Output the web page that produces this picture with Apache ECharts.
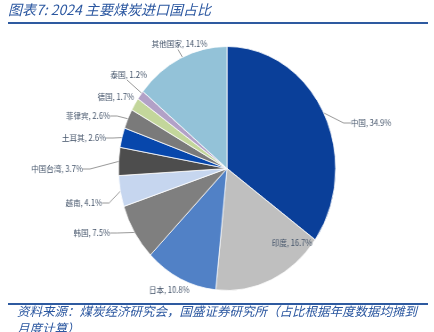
<!DOCTYPE html>
<html><head><meta charset="utf-8">
<script src="https://cdn.jsdelivr.net/npm/echarts@6/dist/echarts.min.js"></script>
<style>
html,body{margin:0;padding:0;background:#fff;}
#wrap{position:relative;width:434px;height:332px;overflow:hidden;}
#frame,#pie{position:absolute;left:0;top:0;width:434px;height:332px;}
/* the pie is drawn slightly narrower than tall */
#pie{transform:scaleX(0.89);transform-origin:227px 0;}
</style></head><body>
<div id="wrap"><div id="frame"></div><div id="pie"></div></div>
<script>
// 2024 coal import shares by origin (%)
const countries = ['中国', '印度', '日本', '韩国', '越南', '中国台湾', '土耳其', '菲律宾', '德国', '泰国', '其他国家'];
const shares = [34.9, 16.7, 10.8, 7.5, 4.1, 3.7, 2.6, 2.6, 1.7, 1.2, 14.1];

const titleText = '图表7: 2024 主要煤炭进口国占比';
const sourceLines = ['资料来源：煤炭经济研究会，国盛证券研究所（占比根据年度数据均摊到', '月度计算）'];

const sliceColors = ['#0A3F99', '#BFBFBF', '#5181C6', '#7F7F7F', '#C6D6EF', '#4D4D4D',
  '#0747AC', '#7A7A7A', '#C3D69B', '#B2A1C7', '#93C2D8'];

// where each label sits (pie-chart pixels, before the horizontal squeeze)
const labelSpots = [
  { x: 366, y: 123, align: 'left' },
  { x: 300, y: 243, align: 'center', line: false },
  { x: 162, y: 290, align: 'center', line: false },
  { x: 95.5, y: 233, align: 'right' },
  { x: 86.5, y: 203, align: 'right' },
  { x: 65, y: 169, align: 'right' },
  { x: 91, y: 138, align: 'right' },
  { x: 95.5, y: 116, align: 'right' },
  { x: 122.5, y: 97, align: 'right', line: false },
  { x: 137, y: 75, align: 'right', line: false },
  { x: 173.6, y: 44, align: 'center', line: false }
];
// short hand-placed leaders (page pixels) for the two labels sitting just above the pie
const leaders = [[127, 80, 142, 93.5], [178, 49.5, 183, 58]];

const blue = '#2B57A0';
const leaderColor = '#7F7F7F';
const cjk = '"Noto Sans CJK SC", sans-serif';

const frame = echarts.init(document.getElementById('frame'), null, { renderer: 'canvas' });
frame.setOption({
  backgroundColor: '#fff',
  animation: false,
  graphic: [
    { type: 'text', left: 8, top: 3, style: { text: titleText, fill: blue, font: 'italic 14px ' + cjk } },
    { type: 'line', shape: { x1: 8, y1: 23, x2: 428, y2: 23 }, style: { stroke: '#2E5AA0', lineWidth: 2 } },
    { type: 'line', shape: { x1: 8, y1: 304, x2: 428, y2: 304 }, style: { stroke: '#2E5AA0', lineWidth: 2 } },
    { type: 'text', left: 17, top: 305, style: { text: sourceLines[0], fill: blue, font: 'italic 12.5px ' + cjk } },
    { type: 'text', left: 17, top: 322, style: { text: sourceLines[1], fill: blue, font: 'italic 12.5px ' + cjk } }
  ].concat(leaders.map(l => ({
    type: 'line',
    shape: { x1: l[0], y1: l[1], x2: l[2], y2: l[3] },
    style: { stroke: leaderColor, lineWidth: 0.8 }
  })))
});

const pie = echarts.init(document.getElementById('pie'), null, { renderer: 'canvas' });
pie.setOption({
  animation: false,
  series: [{
    type: 'pie',
    center: [227, 168.5],
    radius: [0, 122],
    startAngle: 90,
    clockwise: true,
    avoidLabelOverlap: false,
    itemStyle: { borderColor: '#fff', borderWidth: 0.8 },
    label: {
      show: true,
      position: 'outside',
      formatter: '{b}, {c}%',
      color: '#44546A',
      fontFamily: cjk,
      fontSize: 8.5
    },
    labelLine: { show: true, length: 8, length2: 8, lineStyle: { color: leaderColor, width: 0.8 } },
    labelLayout: function (p) {
      const s = labelSpots[p.dataIndex];
      return { x: s.x, y: s.y, align: s.align, verticalAlign: 'middle' };
    },
    data: countries.map((name, i) => ({
      name: name,
      value: shares[i],
      itemStyle: { color: sliceColors[i] },
      labelLine: { show: labelSpots[i].line !== false }
    }))
  }]
});
</script>
</body></html>
